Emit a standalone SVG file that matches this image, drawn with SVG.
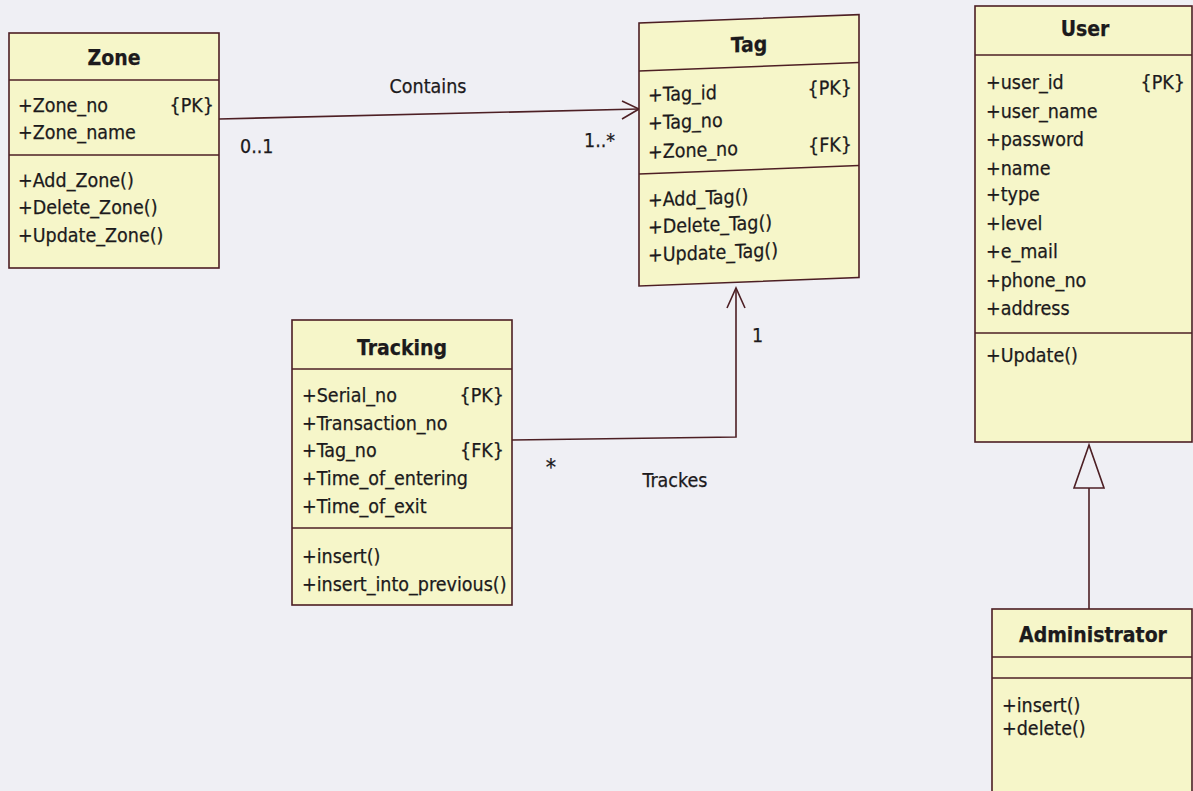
<svg xmlns="http://www.w3.org/2000/svg" width="1193" height="791" viewBox="0 0 1193 791">
  <style>
    .box { fill: #f6f6c9; stroke: #4d1f24; stroke-width: 1.6; }
    .div { stroke: #4d1f24; stroke-width: 1.4; }
    .edge { fill: none; stroke: #4d1f24; stroke-width: 1.6; }
    text { font-family: "DejaVu Sans Condensed", "DejaVu Sans", sans-serif; font-stretch: condensed; fill: #1c1a1c; stroke: #1c1a1c; stroke-width: 0.25; }
    .t { font-size: 21px; font-weight: bold; text-anchor: middle; }
    .a { font-size: 19.5px; }
    .k { font-size: 19.5px; text-anchor: end; }
    .l { font-size: 19.5px; }
    .lc { font-size: 19.5px; text-anchor: middle; }
    .star { font-size: 23px; text-anchor: middle; }
  </style>
  <rect width="1193" height="791" fill="#efeff4"/>

  <!-- connectors -->
  <g id="connectors">
    <!-- Zone to Tag: Contains -->
    <line class="edge" x1="219" y1="119" x2="639" y2="109"/>
    <polyline class="edge" points="622,101 639,109 622,119"/>
    <text class="lc" x="428" y="93">Contains</text>
    <text class="l" x="240" y="153">0..1</text>
    <text class="l" x="584" y="147">1..*</text>

    <!-- Tracking to Tag: Trackes -->
    <polyline class="edge" points="512,440 736,437 736,288"/>
    <polyline class="edge" points="727,308 736,288 745,308"/>
    <text class="l" x="752" y="342">1</text>
    <text class="star" x="551" y="475">*</text>
    <text class="lc" x="675" y="487">Trackes</text>

    <!-- Administrator generalizes User -->
    <line class="edge" x1="1089" y1="488" x2="1089" y2="609"/>
    <polygon class="edge" points="1089,445 1074,488 1104,488" style="fill:#efeff4"/>
  </g>

  <!-- Zone class -->
  <g id="zone">
    <rect class="box" x="9" y="33" width="210" height="235"/>
    <line class="div" x1="9" y1="80" x2="219" y2="80"/>
    <line class="div" x1="9" y1="155" x2="219" y2="155"/>
    <text class="t" x="114" y="65">Zone</text>
    <text class="a" x="18" y="112">+Zone_no</text>
    <text class="k" x="214" y="112">{PK}</text>
    <text class="a" x="18" y="139">+Zone_name</text>
    <text class="a" x="18" y="187">+Add_Zone()</text>
    <text class="a" x="18" y="214">+Delete_Zone()</text>
    <text class="a" x="18" y="242">+Update_Zone()</text>
  </g>

  <!-- Tag class (drawn slightly sheared) -->
  <g id="tag" transform="translate(639,0) skewY(-2.2) translate(-639,0)">
    <rect class="box" x="639" y="23" width="220" height="263"/>
    <line class="div" x1="639" y1="71" x2="859" y2="71"/>
    <line class="div" x1="639" y1="174" x2="859" y2="174"/>
    <text class="t" x="749" y="56">Tag</text>
    <text class="a" x="648" y="102">+Tag_id</text>
    <text class="k" x="852" y="102">{PK}</text>
    <text class="a" x="648" y="130">+Tag_no</text>
    <text class="a" x="648" y="159">+Zone_no</text>
    <text class="k" x="852" y="159">{FK}</text>
    <text class="a" x="648" y="207">+Add_Tag()</text>
    <text class="a" x="648" y="234">+Delete_Tag()</text>
    <text class="a" x="648" y="262">+Update_Tag()</text>
  </g>

  <!-- Tracking class -->
  <g id="tracking">
    <rect class="box" x="292" y="320" width="220" height="285"/>
    <line class="div" x1="292" y1="369" x2="512" y2="369"/>
    <line class="div" x1="292" y1="528" x2="512" y2="528"/>
    <text class="t" x="402" y="355">Tracking</text>
    <text class="a" x="302" y="402">+Serial_no</text>
    <text class="k" x="504" y="402">{PK}</text>
    <text class="a" x="302" y="430">+Transaction_no</text>
    <text class="a" x="302" y="457">+Tag_no</text>
    <text class="k" x="504" y="457">{FK}</text>
    <text class="a" x="302" y="485">+Time_of_entering</text>
    <text class="a" x="302" y="513">+Time_of_exit</text>
    <text class="a" x="302" y="563">+insert()</text>
    <text class="a" x="302" y="591">+insert_into_previous()</text>
  </g>

  <!-- User class -->
  <g id="user">
    <rect class="box" x="975" y="6" width="217" height="436"/>
    <line class="div" x1="975" y1="55" x2="1192" y2="55"/>
    <line class="div" x1="975" y1="333" x2="1192" y2="333"/>
    <text class="t" x="1085" y="36">User</text>
    <text class="a" x="986" y="89">+user_id</text>
    <text class="k" x="1185" y="89">{PK}</text>
    <text class="a" x="986" y="118">+user_name</text>
    <text class="a" x="986" y="146">+password</text>
    <text class="a" x="986" y="175">+name</text>
    <text class="a" x="986" y="201">+type</text>
    <text class="a" x="986" y="230">+level</text>
    <text class="a" x="986" y="258">+e_mail</text>
    <text class="a" x="986" y="287">+phone_no</text>
    <text class="a" x="986" y="315">+address</text>
    <text class="a" x="986" y="362">+Update()</text>
  </g>

  <!-- Administrator class -->
  <g id="administrator">
    <rect class="box" x="992" y="609" width="200" height="200"/>
    <line class="div" x1="992" y1="657" x2="1192" y2="657"/>
    <line class="div" x1="992" y1="678" x2="1192" y2="678"/>
    <text class="t" x="1093" y="642">Administrator</text>
    <text class="a" x="1002" y="712">+insert()</text>
    <text class="a" x="1002" y="735">+delete()</text>
  </g>
</svg>
